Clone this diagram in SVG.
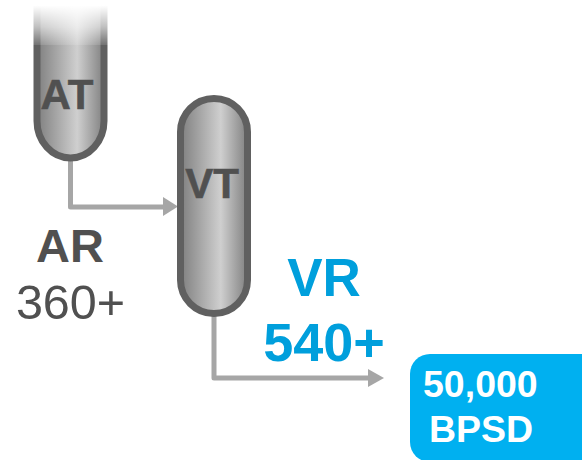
<svg xmlns="http://www.w3.org/2000/svg" width="582" height="460" viewBox="0 0 582 460">
<style>
.b{font-family:"Liberation Sans",Arial,sans-serif;font-weight:700}
.vessel{fill:url(#metal);stroke:#606060;stroke-width:7}
.pipe{fill:none;stroke:#a6a6a6;stroke-width:5;stroke-linejoin:round}
.head{fill:#a6a6a6}
</style>
<defs>
<linearGradient id="metal" x1="0" x2="1" y1="0" y2="0">
<stop offset="0" stop-color="#7f7f7f"/><stop offset="0.6" stop-color="#cfcfcf"/><stop offset="1" stop-color="#808080"/>
</linearGradient>
<linearGradient id="fade" x1="0" x2="0" y1="0" y2="1">
<stop offset="0" stop-color="#fff" stop-opacity="1"/><stop offset="0.12" stop-color="#fff" stop-opacity="1"/><stop offset="0.6" stop-color="#fff" stop-opacity="0.6"/><stop offset="1" stop-color="#fff" stop-opacity="0.12"/>
</linearGradient>
</defs>
<g id="connectors">
<path class="pipe" d="M70.500 160V207H165"/>
<polygon class="head" points="163,197 178,206.500 163,216"/>
<path class="pipe" d="M214 316V378H370"/>
<polygon class="head" points="368,369 384,378 368,387"/>
</g>
<g id="AT">
<path class="vessel" d="M37 -10V121A33.500 37 0 0 0 104 121V-10Z"/>
<rect x="30" y="0" width="82" height="45" fill="url(#fade)"/>
<text class="b" x="67" y="109" font-size="42" fill="#505050" stroke="#505050" stroke-width="0.6" text-anchor="middle">AT</text>
</g>
<g id="VT">
<rect class="vessel" x="180.500" y="98.500" width="67" height="215" rx="33.500" ry="33.500"/>
<text class="b" x="212" y="198" font-size="42" fill="#505050" stroke="#505050" stroke-width="0.6" text-anchor="middle">VT</text>
</g>
<g id="AR">
<text class="b" x="70" y="262" font-size="47" fill="#505050" text-anchor="middle">AR</text>
<text x="70.500" y="319" font-size="48.500" fill="#505050" text-anchor="middle" font-family="Liberation Sans, Arial, sans-serif">360+</text>
</g>
<g id="VR">
<text class="b" x="324" y="296" font-size="53" fill="#009fdc" text-anchor="middle">VR</text>
<text class="b" x="324" y="361" font-size="54" fill="#009fdc" text-anchor="middle">540+</text>
</g>
<g id="capacity">
<rect x="410" y="354" width="200" height="108" rx="20" fill="#00b0f0"/>
<text class="b" x="423" y="397" font-size="37.500" fill="#fff">50,000</text>
<text class="b" x="429" y="442" font-size="37.500" fill="#fff">BPSD</text>
</g>
</svg>
